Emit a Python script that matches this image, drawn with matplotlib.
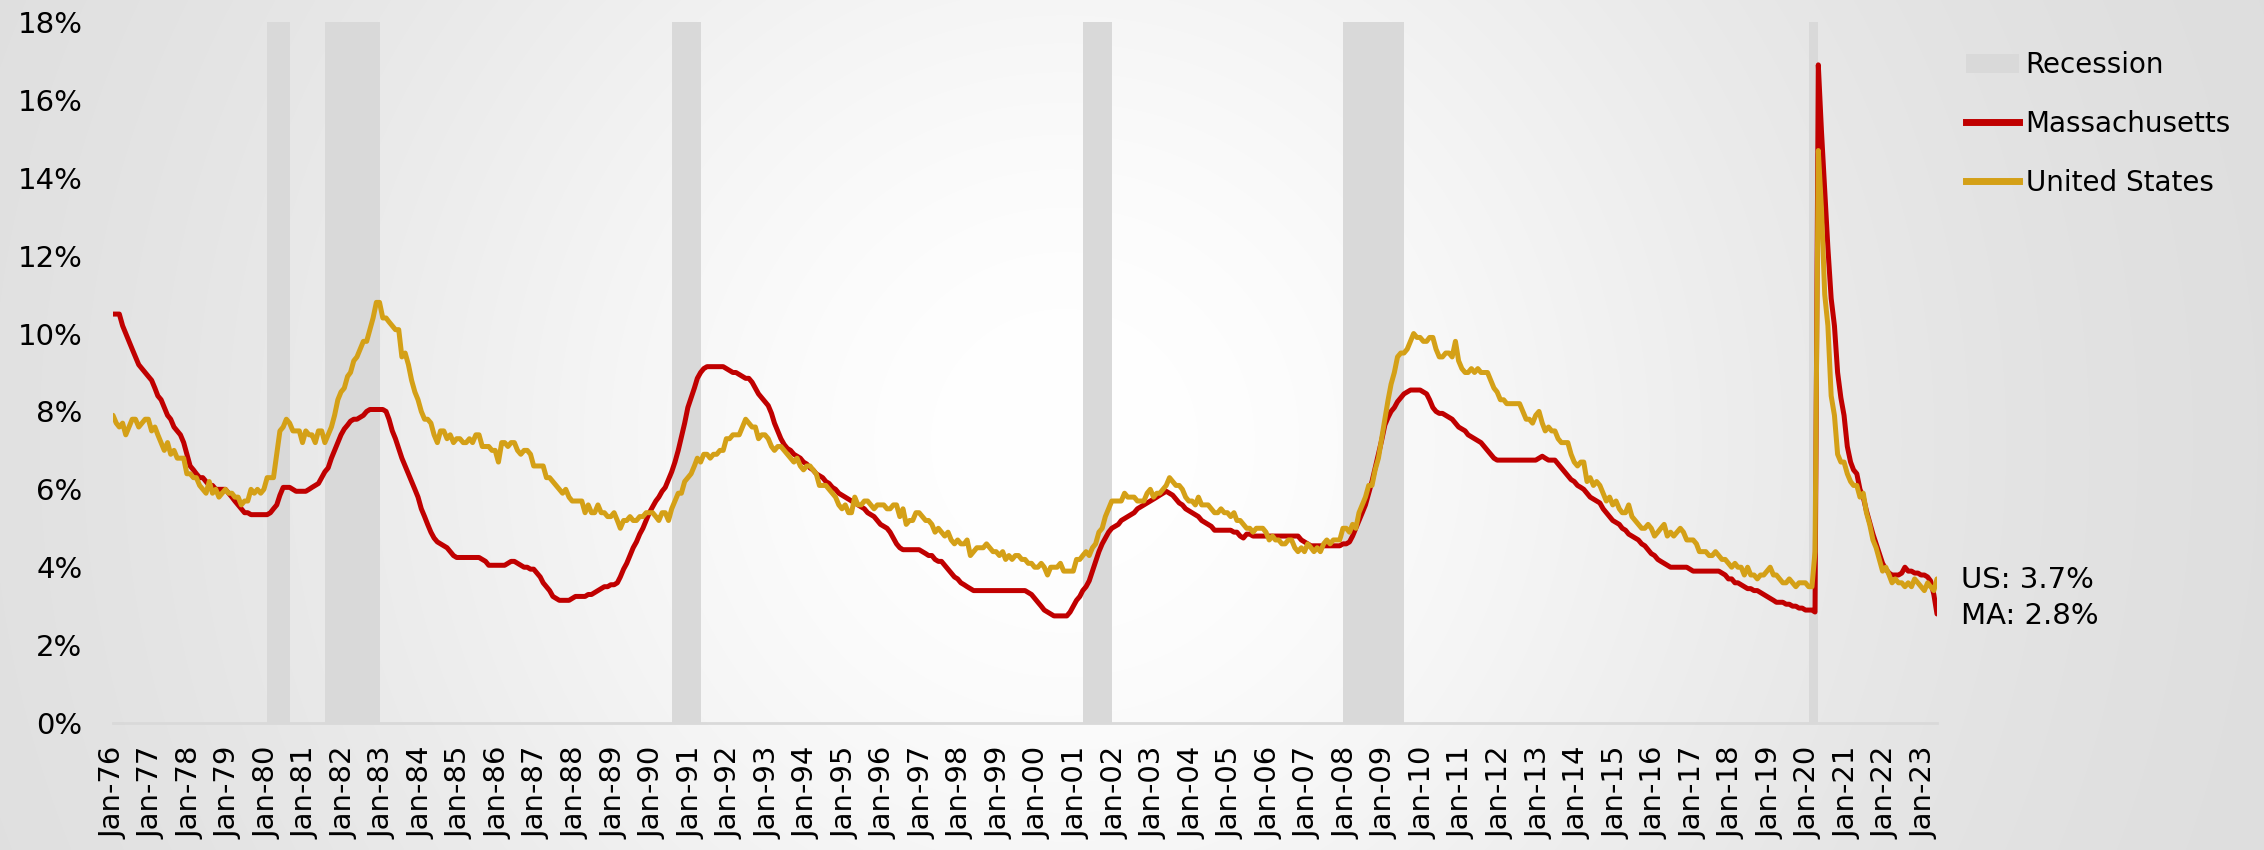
"""
Massachusetts vs. United States monthly unemployment rate, Jan-76 onward,
with recession periods shaded.
"""
import matplotlib

matplotlib.use("Agg")
import matplotlib.pyplot as plt
import numpy as np
import pandas as pd
from matplotlib.lines import Line2D
from matplotlib.patches import Patch

MA_COLOR = "#C00000"
US_COLOR = "#D4A017"
RECESSION_COLOR = "#D9D9D9"

# Monthly rates (%), Jan 1976 .. May 2023, one row per year.
us_rate = [
    7.9, 7.7, 7.6, 7.7, 7.4, 7.6, 7.8, 7.8, 7.6, 7.7, 7.8, 7.8,
    7.5, 7.6, 7.4, 7.2, 7.0, 7.2, 6.9, 7.0, 6.8, 6.8, 6.8, 6.4,
    6.4, 6.3, 6.3, 6.1, 6.0, 5.9, 6.2, 5.9, 6.0, 5.8, 5.9, 6.0,
    5.9, 5.9, 5.8, 5.8, 5.6, 5.7, 5.7, 6.0, 5.9, 6.0, 5.9, 6.0,
    6.3, 6.3, 6.3, 6.9, 7.5, 7.6, 7.8, 7.7, 7.5, 7.5, 7.5, 7.2,
    7.5, 7.4, 7.4, 7.2, 7.5, 7.5, 7.2, 7.4, 7.6, 7.9, 8.3, 8.5,
    8.6, 8.9, 9.0, 9.3, 9.4, 9.6, 9.8, 9.8, 10.1, 10.4, 10.8, 10.8,
    10.4, 10.4, 10.3, 10.2, 10.1, 10.1, 9.4, 9.5, 9.2, 8.8, 8.5, 8.3,
    8.0, 7.8, 7.8, 7.7, 7.4, 7.2, 7.5, 7.5, 7.3, 7.4, 7.2, 7.3,
    7.3, 7.2, 7.2, 7.3, 7.2, 7.4, 7.4, 7.1, 7.1, 7.1, 7.0, 7.0,
    6.7, 7.2, 7.2, 7.1, 7.2, 7.2, 7.0, 6.9, 7.0, 7.0, 6.9, 6.6,
    6.6, 6.6, 6.6, 6.3, 6.3, 6.2, 6.1, 6.0, 5.9, 6.0, 5.8, 5.7,
    5.7, 5.7, 5.7, 5.4, 5.6, 5.4, 5.4, 5.6, 5.4, 5.4, 5.3, 5.3,
    5.4, 5.2, 5.0, 5.2, 5.2, 5.3, 5.2, 5.2, 5.3, 5.3, 5.4, 5.4,
    5.4, 5.3, 5.2, 5.4, 5.4, 5.2, 5.5, 5.7, 5.9, 5.9, 6.2, 6.3,
    6.4, 6.6, 6.8, 6.7, 6.9, 6.9, 6.8, 6.9, 6.9, 7.0, 7.0, 7.3,
    7.3, 7.4, 7.4, 7.4, 7.6, 7.8, 7.7, 7.6, 7.6, 7.3, 7.4, 7.4,
    7.3, 7.1, 7.0, 7.1, 7.1, 7.0, 6.9, 6.8, 6.7, 6.8, 6.6, 6.5,
    6.6, 6.6, 6.5, 6.4, 6.1, 6.1, 6.1, 6.0, 5.9, 5.8, 5.6, 5.5,
    5.6, 5.4, 5.4, 5.8, 5.6, 5.6, 5.7, 5.7, 5.6, 5.5, 5.6, 5.6,
    5.6, 5.5, 5.5, 5.6, 5.6, 5.3, 5.5, 5.1, 5.2, 5.2, 5.4, 5.4,
    5.3, 5.2, 5.2, 5.1, 4.9, 5.0, 4.9, 4.8, 4.9, 4.7, 4.6, 4.7,
    4.6, 4.6, 4.7, 4.3, 4.4, 4.5, 4.5, 4.5, 4.6, 4.5, 4.4, 4.4,
    4.3, 4.4, 4.2, 4.3, 4.2, 4.3, 4.3, 4.2, 4.2, 4.1, 4.1, 4.0,
    4.0, 4.1, 4.0, 3.8, 4.0, 4.0, 4.0, 4.1, 3.9, 3.9, 3.9, 3.9,
    4.2, 4.2, 4.3, 4.4, 4.3, 4.5, 4.6, 4.9, 5.0, 5.3, 5.5, 5.7,
    5.7, 5.7, 5.7, 5.9, 5.8, 5.8, 5.8, 5.7, 5.7, 5.7, 5.9, 6.0,
    5.8, 5.9, 5.9, 6.0, 6.1, 6.3, 6.2, 6.1, 6.1, 6.0, 5.8, 5.7,
    5.7, 5.6, 5.8, 5.6, 5.6, 5.6, 5.5, 5.4, 5.4, 5.5, 5.4, 5.4,
    5.3, 5.4, 5.2, 5.2, 5.1, 5.0, 5.0, 4.9, 5.0, 5.0, 5.0, 4.9,
    4.7, 4.8, 4.7, 4.7, 4.6, 4.6, 4.7, 4.7, 4.5, 4.4, 4.5, 4.4,
    4.6, 4.5, 4.4, 4.5, 4.4, 4.6, 4.7, 4.6, 4.7, 4.7, 4.7, 5.0,
    5.0, 4.9, 5.1, 5.0, 5.4, 5.6, 5.8, 6.1, 6.1, 6.5, 6.8, 7.3,
    7.8, 8.3, 8.7, 9.0, 9.4, 9.5, 9.5, 9.6, 9.8, 10.0, 9.9, 9.9,
    9.8, 9.8, 9.9, 9.9, 9.6, 9.4, 9.4, 9.5, 9.5, 9.4, 9.8, 9.3,
    9.1, 9.0, 9.0, 9.1, 9.0, 9.1, 9.0, 9.0, 9.0, 8.8, 8.6, 8.5,
    8.3, 8.3, 8.2, 8.2, 8.2, 8.2, 8.2, 8.0, 7.8, 7.8, 7.7, 7.9,
    8.0, 7.7, 7.5, 7.6, 7.5, 7.5, 7.3, 7.2, 7.2, 7.2, 6.9, 6.7,
    6.6, 6.7, 6.7, 6.2, 6.3, 6.1, 6.2, 6.1, 5.9, 5.7, 5.8, 5.6,
    5.7, 5.5, 5.4, 5.4, 5.6, 5.3, 5.2, 5.1, 5.0, 5.0, 5.1, 5.0,
    4.8, 4.9, 5.0, 5.1, 4.8, 4.9, 4.8, 4.9, 5.0, 4.9, 4.7, 4.7,
    4.7, 4.6, 4.4, 4.4, 4.4, 4.3, 4.3, 4.4, 4.3, 4.2, 4.2, 4.1,
    4.0, 4.1, 4.0, 4.0, 3.8, 4.0, 3.8, 3.8, 3.7, 3.8, 3.8, 3.9,
    4.0, 3.8, 3.8, 3.7, 3.6, 3.6, 3.7, 3.6, 3.5, 3.6, 3.6, 3.6,
    3.5, 3.5, 4.4, 14.7, 13.2, 11.0, 10.2, 8.4, 7.9, 6.9, 6.7, 6.7,
    6.4, 6.2, 6.1, 6.1, 5.8, 5.9, 5.4, 5.1, 4.7, 4.5, 4.2, 3.9,
    4.0, 3.8, 3.6, 3.7, 3.6, 3.6, 3.5, 3.6, 3.5, 3.7, 3.6, 3.5,
    3.4, 3.6, 3.5, 3.4, 3.7,
]

ma_rate = [
    10.5, 10.5, 10.5, 10.2, 10.0, 9.8, 9.6, 9.4, 9.2, 9.1, 9.0, 8.9,
    8.8, 8.6, 8.4, 8.3, 8.1, 7.9, 7.8, 7.6, 7.5, 7.4, 7.2, 6.9,
    6.6, 6.5, 6.4, 6.3, 6.3, 6.2, 6.1, 6.1, 6.0, 6.0, 6.0, 6.0,
    5.9, 5.8, 5.7, 5.6, 5.5, 5.4, 5.4, 5.35, 5.35, 5.35, 5.35, 5.35,
    5.35, 5.4, 5.5, 5.6, 5.85, 6.05, 6.05, 6.05, 6.0, 5.95, 5.95, 5.95,
    5.95, 6.0, 6.05, 6.1, 6.15, 6.3, 6.45, 6.55, 6.8, 7.0, 7.2, 7.4,
    7.55, 7.65, 7.75, 7.8, 7.8, 7.85, 7.9, 8.0, 8.05, 8.05, 8.05, 8.05,
    8.05, 8.0, 7.8, 7.5, 7.3, 7.05, 6.8, 6.6, 6.4, 6.2, 6.0, 5.8,
    5.5, 5.3, 5.1, 4.9, 4.75, 4.65, 4.6, 4.55, 4.5, 4.4, 4.3, 4.25,
    4.25, 4.25, 4.25, 4.25, 4.25, 4.25, 4.25, 4.2, 4.15, 4.05, 4.05, 4.05,
    4.05, 4.05, 4.05, 4.1, 4.15, 4.15, 4.1, 4.05, 4.0, 4.0, 3.95, 3.95,
    3.85, 3.75, 3.6, 3.5, 3.4, 3.25, 3.2, 3.15, 3.15, 3.15, 3.15, 3.2,
    3.25, 3.25, 3.25, 3.25, 3.3, 3.3, 3.35, 3.4, 3.45, 3.5, 3.5, 3.55,
    3.55, 3.6, 3.75, 3.95, 4.1, 4.3, 4.5, 4.65, 4.85, 5.0, 5.2, 5.4,
    5.55, 5.7, 5.8, 5.95, 6.05, 6.25, 6.45, 6.7, 7.0, 7.35, 7.7, 8.1,
    8.35, 8.6, 8.85, 9.0, 9.1, 9.15, 9.15, 9.15, 9.15, 9.15, 9.15, 9.1,
    9.05, 9.0, 9.0, 8.95, 8.9, 8.85, 8.85, 8.75, 8.6, 8.45, 8.35, 8.25,
    8.15, 7.95, 7.7, 7.5, 7.3, 7.15, 7.05, 7.0, 6.9, 6.85, 6.8, 6.7,
    6.65, 6.55, 6.5, 6.4, 6.35, 6.3, 6.2, 6.15, 6.05, 6.0, 5.9, 5.85,
    5.8, 5.75, 5.7, 5.65, 5.6, 5.55, 5.5, 5.4, 5.35, 5.3, 5.2, 5.1,
    5.05, 5.0, 4.9, 4.75, 4.6, 4.5, 4.45, 4.45, 4.45, 4.45, 4.45, 4.45,
    4.4, 4.35, 4.3, 4.3, 4.2, 4.15, 4.15, 4.05, 3.95, 3.85, 3.75, 3.7,
    3.6, 3.55, 3.5, 3.45, 3.4, 3.4, 3.4, 3.4, 3.4, 3.4, 3.4, 3.4,
    3.4, 3.4, 3.4, 3.4, 3.4, 3.4, 3.4, 3.4, 3.4, 3.35, 3.3, 3.2,
    3.1, 3.0, 2.9, 2.85, 2.8, 2.75, 2.75, 2.75, 2.75, 2.75, 2.85, 3.0,
    3.15, 3.25, 3.4, 3.5, 3.65, 3.9, 4.15, 4.4, 4.6, 4.75, 4.9, 5.0,
    5.05, 5.1, 5.2, 5.25, 5.3, 5.35, 5.4, 5.5, 5.55, 5.6, 5.65, 5.7,
    5.75, 5.8, 5.85, 5.9, 5.95, 5.9, 5.85, 5.75, 5.65, 5.6, 5.5, 5.45,
    5.4, 5.35, 5.3, 5.2, 5.15, 5.1, 5.05, 4.95, 4.95, 4.95, 4.95, 4.95,
    4.95, 4.9, 4.9, 4.8, 4.75, 4.85, 4.85, 4.8, 4.8, 4.8, 4.8, 4.8,
    4.8, 4.8, 4.8, 4.8, 4.8, 4.8, 4.8, 4.8, 4.8, 4.8, 4.7, 4.65,
    4.6, 4.55, 4.55, 4.55, 4.55, 4.55, 4.55, 4.55, 4.55, 4.55, 4.55, 4.6,
    4.6, 4.65, 4.8, 5.0, 5.2, 5.4, 5.6, 5.9, 6.2, 6.55, 6.9, 7.25,
    7.65, 7.85, 8.0, 8.1, 8.25, 8.35, 8.45, 8.5, 8.55, 8.55, 8.55, 8.55,
    8.5, 8.45, 8.3, 8.1, 8.0, 7.95, 7.95, 7.9, 7.85, 7.8, 7.7, 7.6,
    7.55, 7.5, 7.4, 7.35, 7.3, 7.25, 7.2, 7.1, 7.0, 6.9, 6.8, 6.75,
    6.75, 6.75, 6.75, 6.75, 6.75, 6.75, 6.75, 6.75, 6.75, 6.75, 6.75, 6.75,
    6.8, 6.85, 6.8, 6.75, 6.75, 6.75, 6.65, 6.55, 6.45, 6.35, 6.25, 6.2,
    6.1, 6.05, 6.0, 5.9, 5.8, 5.75, 5.7, 5.65, 5.5, 5.4, 5.3, 5.2,
    5.15, 5.1, 5.0, 4.95, 4.85, 4.8, 4.75, 4.7, 4.6, 4.55, 4.45, 4.35,
    4.3, 4.2, 4.15, 4.1, 4.05, 4.0, 4.0, 4.0, 4.0, 4.0, 4.0, 3.95,
    3.9, 3.9, 3.9, 3.9, 3.9, 3.9, 3.9, 3.9, 3.9, 3.85, 3.8, 3.7,
    3.7, 3.6, 3.6, 3.55, 3.5, 3.45, 3.45, 3.4, 3.4, 3.35, 3.3, 3.25,
    3.2, 3.15, 3.1, 3.1, 3.1, 3.05, 3.05, 3.0, 3.0, 2.95, 2.95, 2.9,
    2.9, 2.9, 2.85, 16.9, 15.2, 13.7, 12.2, 10.9, 10.2, 9.0, 8.35, 7.9,
    7.1, 6.7, 6.5, 6.4, 6.0, 5.8, 5.45, 5.15, 4.85, 4.6, 4.35, 4.1,
    3.95, 3.85, 3.8, 3.8, 3.8, 3.85, 4.0, 3.9, 3.9, 3.85, 3.85, 3.8,
    3.8, 3.75, 3.65, 3.3, 2.8,
]

# Shaded recession periods as drawn (start month, month after the end).
recession_start = ["1980-01", "1981-07", "1990-07", "2001-03", "2007-12", "2020-01"]
recession_end = ["1980-08", "1982-12", "1991-04", "2001-12", "2009-07", "2020-04"]

y_ticks = [0, 2, 4, 6, 8, 10, 12, 14, 16, 18]
last_labels = ["US: 3.7%", "MA: 2.8%"]

months = pd.date_range("1976-01-01", periods=len(us_rate), freq="MS")
year_ticks = pd.date_range("1976-01-01", "2023-01-01", freq="YS")

W, H = 2264, 850
fig = plt.figure(figsize=(W / 100, H / 100), dpi=100)

# radial light-grey background, whitest a little left of and below centre
bg = fig.add_axes([0, 0, 1, 1], zorder=-10)
yy, xx = np.mgrid[0:H, 0:W]
r = np.hypot(xx - 0.47 * W, yy - 0.52 * H) / (W / 2)
shade = 1.0 - 0.14 * (1 - np.exp(-(r / 0.7) ** 2))
bg.imshow(np.dstack([shade] * 3), aspect="auto", interpolation="bilinear")
bg.axis("off")

ax = fig.add_axes([113 / W, 1 - 723 / H, (1937 - 113) / W, (723 - 22) / H])
ax.set_facecolor("none")

for start, end in zip(recession_start, recession_end):
    ax.axvspan(pd.Timestamp(start), pd.Timestamp(end), color=RECESSION_COLOR,
               lw=0, zorder=1)

ax.plot(months, ma_rate, color=MA_COLOR, lw=3.6, zorder=3, solid_capstyle="round")
ax.plot(months, us_rate, color=US_COLOR, lw=3.6, zorder=4, solid_capstyle="round")

ax.set_xlim(months[0], months[-1])
ax.set_ylim(0, 18)
ax.set_yticks(y_ticks)
ax.set_yticklabels([f"{v}%" for v in y_ticks])
ax.set_xticks(year_ticks)
ax.set_xticklabels([d.strftime("Jan-%y") for d in year_ticks], rotation=90)
ax.tick_params(axis="x", length=0, pad=17, labelsize=21)
ax.tick_params(axis="y", length=0, pad=22, labelsize=21)
for side in ("left", "right", "top"):
    ax.spines[side].set_visible(False)
ax.spines["bottom"].set_color(RECESSION_COLOR)
ax.spines["bottom"].set_linewidth(2)
ax.spines["bottom"].set_zorder(2)

handles = [
    Patch(facecolor=RECESSION_COLOR, edgecolor="none", label="Recession"),
    Line2D([], [], color=MA_COLOR, lw=5, label="Massachusetts"),
    Line2D([], [], color=US_COLOR, lw=5, label="United States"),
]
fig.legend(handles=handles, loc="upper left", bbox_to_anchor=(1966 / W, 1 - 51 / H),
           frameon=False, fontsize=20, handlelength=1.9, handletextpad=0.25,
           labelspacing=1.12, borderpad=0, borderaxespad=0)

fig.text(1961 / W, 1 - 580 / H, last_labels[0], fontsize=21, va="center")
fig.text(1961 / W, 1 - 616 / H, last_labels[1], fontsize=21, va="center")

fig.savefig("out.png", dpi=100)
